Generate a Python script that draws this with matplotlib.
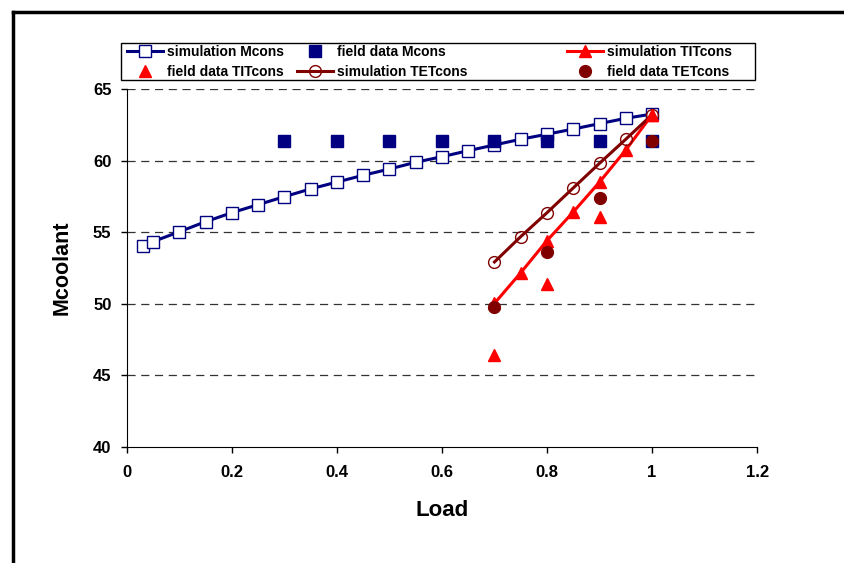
"""
Mcoolant vs load: simulation and field data
"""
import matplotlib
matplotlib.use('Agg')
import matplotlib.pyplot as plt
from matplotlib.lines import Line2D
from matplotlib.patches import Rectangle

plt.rcParams['font.family'] = ['Liberation Sans', 'DejaVu Sans']
plt.rcParams['font.weight'] = 'bold'

# data
load_sim_m = [0.03, 0.05, 0.1, 0.15, 0.2, 0.25, 0.3, 0.35, 0.4, 0.45, 0.5,
              0.55, 0.6, 0.65, 0.7, 0.75, 0.8, 0.85, 0.9, 0.95, 1.0]
sim_mcons = [54.04, 54.34, 55.03, 55.73, 56.36, 56.92, 57.48, 58.02, 58.5, 58.97, 59.41,
             59.88, 60.27, 60.69, 61.09, 61.49, 61.84, 62.2, 62.58, 62.95, 63.25]
load_field_m = [0.3, 0.4, 0.5, 0.6, 0.7, 0.8, 0.9, 1.0]
field_mcons = [61.4, 61.4, 61.4, 61.4, 61.4, 61.4, 61.4, 61.4]

load_sim_t = [0.7, 0.75, 0.8, 0.85, 0.9, 0.95, 1.0]
sim_titcons = [50.03, 52.17, 54.41, 56.41, 58.5, 60.74, 63.2]
sim_tetcons = [52.92, 54.69, 56.36, 58.09, 59.81, 61.49, 63.2]
load_field_t = [0.7, 0.8, 0.9, 1.0]
field_titcons = [46.42, 51.38, 56.08, 63.2]
field_tetcons = [49.75, 53.62, 57.37, 61.4]

xticks = [0, 0.2, 0.4, 0.6, 0.8, 1, 1.2]
xticklabels = ['0', '0.2', '0.4', '0.6', '0.8', '1', '1.2']
yticks = [40, 45, 50, 55, 60, 65]

NAVY = '#000080'
RED = '#ff0000'
DRED = '#800000'

fig = plt.figure(figsize=(8.45, 5.63), dpi=100)
ax = fig.add_axes([0.150, 0.206, 0.746, 0.636])

for y in yticks[1:]:
    ax.axhline(y, color='#333333', lw=0.9, ls=(0, (6.5, 4.5)), zorder=0)

ax.plot(load_sim_m, sim_mcons, color=NAVY, lw=2.2, marker='s', ms=8,
        mfc='white', mec=NAVY, mew=1.0, label='simulation Mcons', zorder=3)
ax.plot(load_field_m, field_mcons, ls='none', marker='s', ms=8.5,
        color=NAVY, label='field data Mcons', zorder=4)
ax.plot(load_sim_t, sim_titcons, color=RED, lw=2.2, marker='^', ms=9,
        mfc=RED, mec=RED, label='simulation TITcons', zorder=3)
ax.plot(load_field_t, field_titcons, ls='none', marker='^', ms=9,
        color=RED, label='field data TITcons', zorder=4)
ax.plot(load_sim_t, sim_tetcons, color=DRED, lw=2.2, marker='o', ms=8.5,
        mfc='none', mec=DRED, mew=1.0, label='simulation TETcons', zorder=3)
ax.plot(load_field_t, field_tetcons, ls='none', marker='o', ms=8.5,
        color=DRED, label='field data TETcons', zorder=5)

ax.set_xlim(0, 1.2)
ax.set_ylim(40, 65)
ax.set_xticks(xticks)
ax.set_xticklabels(xticklabels)
ax.set_yticks(yticks)
ax.tick_params(labelsize=12, length=4, width=1, pad=9, axis='x')
ax.tick_params(labelsize=12, length=4, width=1, pad=7, axis='y')
for lab in ax.get_xticklabels() + ax.get_yticklabels():
    lab.set_fontweight('bold')
ax.spines['top'].set_visible(False)
ax.spines['right'].set_visible(False)
ax.set_xlabel('Load', fontsize=16, fontweight='bold', labelpad=14)
ax.set_ylabel('Mcoolant', fontsize=15.5, fontweight='bold', labelpad=15)

# legend: three columns placed like the original, filled row by row
h, l = ax.get_legend_handles_labels()
col_x = [127, 297, 567]
for c, x in enumerate(col_x):
    lg = fig.legend([h[c], h[c + 3]], [l[c], l[c + 3]], loc='upper left',
                    bbox_to_anchor=(x / 845, 1 - 45 / 563), frameon=False,
                    prop={'weight': 'bold', 'size': 10}, handlelength=2.6,
                    handletextpad=0.3, borderpad=0, labelspacing=0.45,
                    borderaxespad=0)
fig.add_artist(Rectangle((121 / 845, 1 - 80 / 563), 634 / 845, 37 / 563,
                         transform=fig.transFigure, fill=False,
                         edgecolor='black', lw=1.0))

# outer frame
fig.add_artist(Line2D([0.0155, 0.0155], [0, 0.979], color='black', lw=2.5))
fig.add_artist(Line2D([0.0155, 1.0], [0.979, 0.979], color='black', lw=2.5))

fig.savefig('out.png', dpi=100)
